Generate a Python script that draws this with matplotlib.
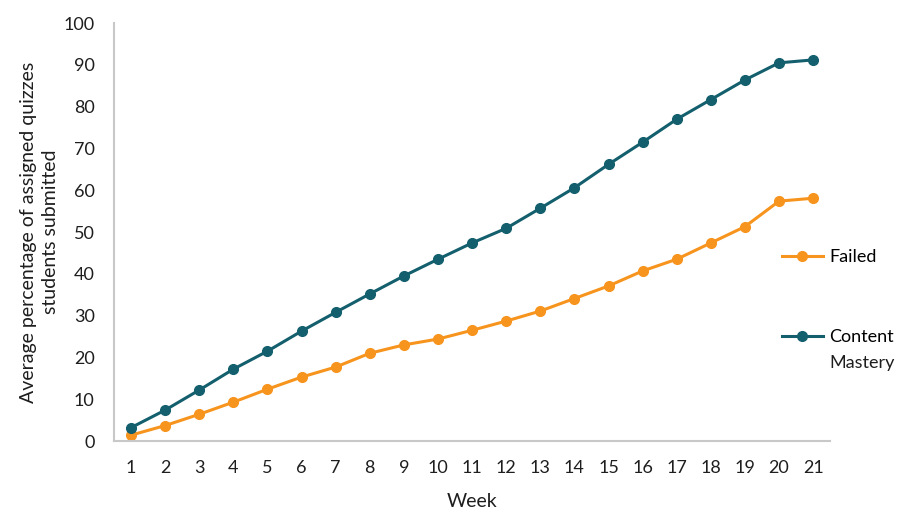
import matplotlib.pyplot as plt
from matplotlib.lines import Line2D

plt.rcParams['font.family'] = ['Lato', 'DejaVu Sans']

# data
weeks = list(range(1, 22))
failed = [1.4, 3.7, 6.4, 9.3, 12.4, 15.3, 17.7, 21.0, 23.0, 24.4, 26.5,
          28.7, 31.1, 34.1, 37.1, 40.7, 43.5, 47.4, 51.3, 57.4, 58.1]
mastery = [3.2, 7.4, 12.2, 17.2, 21.5, 26.3, 30.8, 35.2, 39.5, 43.5, 47.4,
           50.9, 55.7, 60.6, 66.2, 71.5, 77.0, 81.7, 86.4, 90.5, 91.2]

orange = "#F7941D"
teal = "#135F6D"
txt = "#1E1E1E"

fig = plt.figure(figsize=(9.1, 5.14), dpi=100)
ax = fig.add_axes([0.1253, 0.142, 0.787, 0.813])

ax.plot(weeks, failed, color=orange, lw=2.2, marker='o', ms=7, label="Failed")
ax.plot(weeks, mastery, color=teal, lw=2.2, marker='o', ms=7, label="Content Mastery")

ax.set_xlim(0.5, 21.5)
ax.set_ylim(0, 100)
ax.set_xticks(weeks)
ax.set_yticks(range(0, 101, 10))
ax.tick_params(length=0, labelsize=13, colors=txt)
ax.tick_params(axis='x', pad=14)
ax.tick_params(axis='y', pad=14)

for s in ['top', 'right']:
    ax.spines[s].set_visible(False)
for s in ['left', 'bottom']:
    ax.spines[s].set_color("#C8C8C8")
    ax.spines[s].set_linewidth(1.5)

ax.set_xlabel("Week", fontsize=14, labelpad=12, color=txt)
ax.set_ylabel("Average percentage of assigned quizzes\nstudents submitted",
              fontsize=14, labelpad=3, color=txt, linespacing=1.4)

handles = [Line2D([], [], color=orange, lw=2.2, marker='o', ms=7),
           Line2D([], [], color=teal, lw=2.2, marker='o', ms=7)]
fig.legend(handles, ["Failed", "Content"], loc='upper left',
           bbox_to_anchor=(0.841, 0.547), frameon=False, fontsize=13,
           labelspacing=3.55, handlelength=2.3, handletextpad=0.35)
fig.text(0.911, 0.293, "Mastery", fontsize=13, color=txt, va='center', ha='left')

fig.savefig("out.png", dpi=100)
